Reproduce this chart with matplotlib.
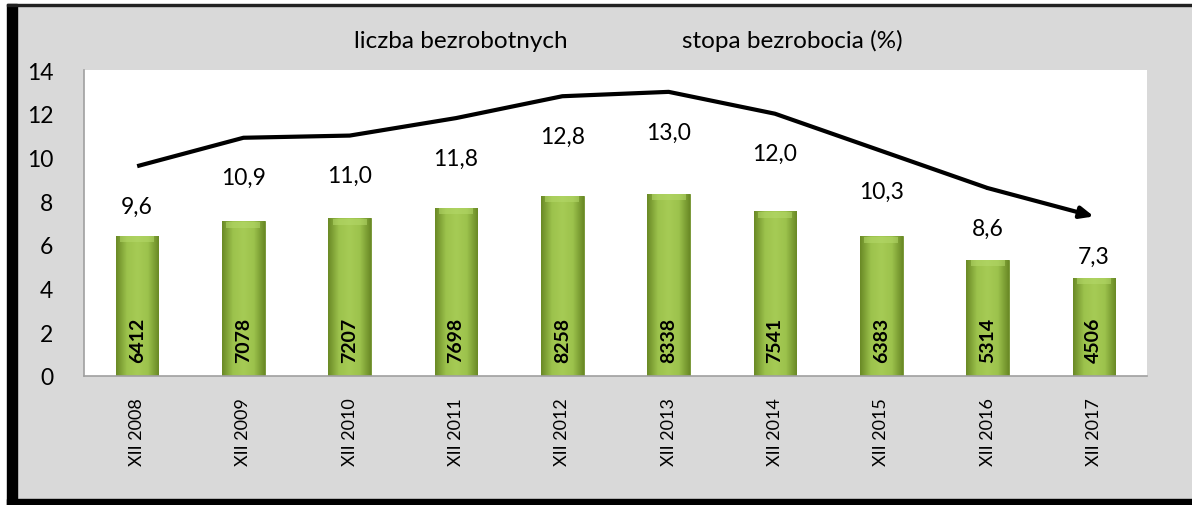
import numpy as np
import matplotlib.pyplot as plt
from matplotlib.patches import Rectangle
from matplotlib.colors import LinearSegmentedColormap

plt.rcParams['font.family'] = ['Lato', 'DejaVu Sans']

lata = ['XII 2008', 'XII 2009', 'XII 2010', 'XII 2011', 'XII 2012',
        'XII 2013', 'XII 2014', 'XII 2015', 'XII 2016', 'XII 2017']
liczba = [6412, 7078, 7207, 7698, 8258, 8338, 7541, 6383, 5314, 4506]
stopa = [9.6, 10.9, 11.0, 11.8, 12.8, 13.0, 12.0, 10.3, 8.6, 7.3]

fig = plt.figure(figsize=(11.92, 5.06), dpi=100)
fig.patch.set_facecolor('white')

# tlo wykresu z ramka
fig.patches.append(Rectangle((17/1192, 6/506), 1175/1192, 493/506,
                             transform=fig.transFigure, color='#d9d9d9', zorder=-2))
fig.patches.append(Rectangle((7/1192, 0), 10/1192, 501/506,
                             transform=fig.transFigure, color='black', zorder=-1))
fig.patches.append(Rectangle((7/1192, 0), 1185/1192, 6/506,
                             transform=fig.transFigure, color='black', zorder=-1))
fig.patches.append(Rectangle((7/1192, 499/506), 1185/1192, 2/506,
                             transform=fig.transFigure, color='#222222', zorder=-1))

ax = fig.add_axes([84/1192, 129/506, 1063/1192, 306/506])
ax.set_zorder(5)
ax.set_facecolor('white')

x = np.arange(len(lata))
wys = [v / 1000 for v in liczba]
bars = ax.bar(x, wys, width=0.4, color='#8fb53e', edgecolor='#6f8f2c', linewidth=0.6, zorder=2)

cmap = LinearSegmentedColormap.from_list('ziel', ['#6a8a26', '#9cc24c', '#a6cb55', '#9cc24c', '#6a8a26'])
grad = np.linspace(0, 1, 64).reshape(1, -1)
for b in bars:
    bx, bw, bh = b.get_x(), b.get_width(), b.get_height()
    im = ax.imshow(grad, cmap=cmap, aspect='auto', extent=[bx, bx + bw, 0, bh], zorder=2.5)
    im.set_clip_path(b)
    ax.add_patch(Rectangle((bx + bw * 0.1, bh - 0.3), bw * 0.8, 0.28,
                           color='#b5d96a', alpha=0.55, zorder=2.6, linewidth=0))

for xi, v in zip(x, liczba):
    ax.text(xi, 0.65, str(v), rotation=90, ha='center', va='bottom',
            fontsize=14, fontweight='bold', color='black', zorder=4)

ax.plot(x[:-1], stopa[:-1], color='black', linewidth=3, zorder=3, solid_capstyle='butt')
ax.annotate('', xy=(x[-1], stopa[-1]), xytext=(x[-2], stopa[-2]),
            arrowprops=dict(arrowstyle='-|>,head_length=0.8,head_width=0.35',
                            color='black', lw=3, shrinkA=0, shrinkB=0), zorder=3)

for xi, s in zip(x, stopa):
    ax.annotate(f'{s:.1f}'.replace('.', ','), (xi, s), xytext=(0, -40),
                textcoords='offset pixels', ha='center', va='center', fontsize=16.5)

ax.set_xlim(-0.5, len(lata) - 0.5)
ax.set_ylim(0, 14)
ax.set_yticks(range(0, 15, 2))
ax.set_xticks(x)
ax.set_xticklabels(lata, rotation=90, fontsize=13)
ax.tick_params(axis='both', length=0)
ax.tick_params(axis='y', labelsize=16.5, pad=22)
ax.tick_params(axis='x', pad=15)
for s in ['top', 'right']:
    ax.spines[s].set_visible(False)
for s in ['left', 'bottom']:
    ax.spines[s].set_color('#a0a0a0')
    ax.spines[s].set_linewidth(1.2)

fig.text(461/1192, 1 - 41/506, 'liczba bezrobotnych', ha='center', va='center', fontsize=17.5)
fig.text(792/1192, 1 - 41/506, 'stopa bezrobocia (%)', ha='center', va='center', fontsize=17.5)

fig.savefig('out.png', dpi=100, facecolor=fig.get_facecolor())
